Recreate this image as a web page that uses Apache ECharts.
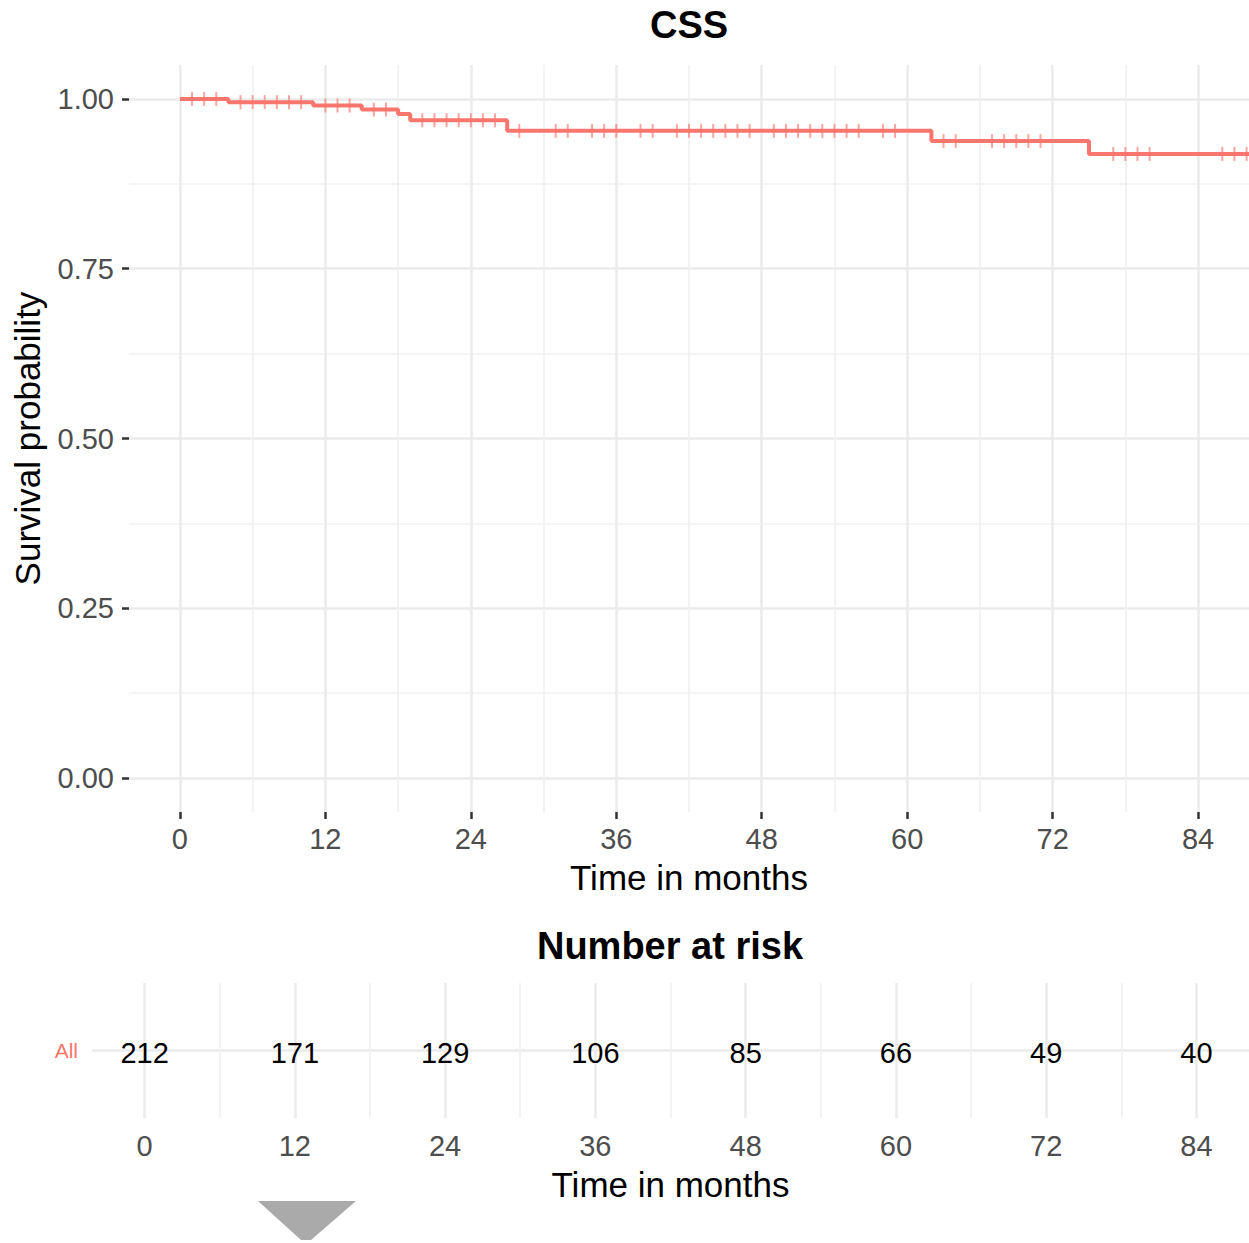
<!DOCTYPE html>
<html><head><meta charset="utf-8">
<script src="https://cdn.jsdelivr.net/npm/echarts@6/dist/echarts.min.js"></script>
<style>html,body{margin:0;padding:0;background:#fff}#c{width:1249px;height:1243px}</style>
</head><body><div id="c"></div>
<script>
// ---- data ----
const eventTimes = [0, 4, 11, 15, 18, 19, 27, 62, 75, 90];
const survival   = [1.0, 0.9953, 0.9904, 0.9844, 0.978, 0.9686, 0.953, 0.938, 0.919, 0.919];
const censorTimes = [1, 2, 3, 5, 6, 7, 8, 9, 10, 12, 13, 14, 16, 17,
  20, 21, 22, 23, 24, 25, 26, 28, 31, 32, 34, 35, 36, 38, 39, 41, 42, 43, 44, 45, 46, 47,
  49, 50, 51, 52, 53, 54, 55, 56, 58, 59, 63, 64, 67, 68, 69, 70, 71, 77, 78, 79, 80, 86, 87, 88];
const riskTimes  = [0, 12, 24, 36, 48, 60, 72, 84];
const riskCounts = [212, 171, 129, 106, 85, 66, 49, 40];
const strata = ['All'];
const xMajorTicks = [0, 12, 24, 36, 48, 60, 72, 84];
const xMinorTicks = [6, 18, 30, 42, 54, 66, 78];
const yMajorTicks = [0, 0.25, 0.5, 0.75, 1];
const yMinorTicks = [0.125, 0.375, 0.625, 0.875];
const titleText = 'CSS';
const riskTitle = 'Number at risk';
const xTitle = 'Time in months';
const yTitle = 'Survival probability';

// ---- build ----
function survAt(t) {
  let s = survival[0];
  for (let i = 0; i < eventTimes.length; i++) if (eventTimes[i] <= t) s = survival[i];
  return s;
}
const curveData = eventTimes.map((t, i) => [t, survival[i]]);
const censorData = censorTimes.map(t => [t, survAt(t)]);
const riskData = riskTimes.map((t, i) => [t, 1, riskCounts[i]]);

const FF = '"Liberation Sans", Arial, sans-serif';
const RED = '#F8766D';
const majorLine = { show: true, lineStyle: { color: '#ebebeb', width: 2.6 } };
const minorLine = { show: true, lineStyle: { color: '#f0f0f0', width: 1.6 } };
const noLine = { show: false, onZero: false };
const X0 = -4.2, X1 = 88.2;

const chart = echarts.init(document.getElementById('c'), null, { renderer: 'svg' });
chart.setOption({
  backgroundColor: '#ffffff',
  animation: false,
  grid: [
    { left: 129, top: 65, width: 1120, height: 747, containLabel: false },
    { left: 92, top: 983, width: 1157, height: 135, containLabel: false }
  ],
  xAxis: [
    { gridIndex: 0, type: 'value', min: X0, max: X1, position: 'bottom',
      axisLine: noLine,
      axisTick: { show: true, customValues: xMajorTicks, length: 7, lineStyle: { color: '#333', width: 2.5 } },
      axisLabel: { customValues: xMajorTicks, color: '#4d4d4d', fontSize: 29, fontFamily: FF, margin: 12 },
      splitLine: majorLine,
      name: xTitle, nameLocation: 'middle', nameGap: 48,
      nameTextStyle: { color: '#000', fontSize: 35, fontFamily: FF } },
    { gridIndex: 0, type: 'value', min: X0, max: X1, position: 'bottom',
      axisLine: noLine,
      axisTick: { show: false, customValues: xMinorTicks },
      axisLabel: { show: false, customValues: xMinorTicks },
      splitLine: minorLine },
    { gridIndex: 1, type: 'value', min: X0, max: X1, position: 'bottom',
      axisLine: noLine,
      axisTick: { show: false, customValues: xMajorTicks },
      axisLabel: { customValues: xMajorTicks, color: '#4d4d4d', fontSize: 29, fontFamily: FF, margin: 13 },
      splitLine: majorLine,
      name: xTitle, nameLocation: 'middle', nameGap: 49,
      nameTextStyle: { color: '#000', fontSize: 35, fontFamily: FF } },
    { gridIndex: 1, type: 'value', min: X0, max: X1, position: 'bottom',
      axisLine: noLine,
      axisTick: { show: false, customValues: xMinorTicks },
      axisLabel: { show: false, customValues: xMinorTicks },
      splitLine: minorLine }
  ],
  yAxis: [
    { gridIndex: 0, type: 'value', min: -0.05, max: 1.05, position: 'left',
      axisLine: noLine,
      axisTick: { show: true, customValues: yMajorTicks, length: 7, lineStyle: { color: '#333', width: 2.5 } },
      axisLabel: { customValues: yMajorTicks, color: '#4d4d4d', fontSize: 29, fontFamily: FF, margin: 15,
        formatter: v => Number(v).toFixed(2) },
      splitLine: majorLine,
      name: yTitle, nameLocation: 'middle', nameGap: 84, nameRotate: 90,
      nameTextStyle: { color: '#000', fontSize: 35, fontFamily: FF } },
    { gridIndex: 0, type: 'value', min: -0.05, max: 1.05, position: 'left',
      axisLine: noLine,
      axisTick: { show: false, customValues: yMinorTicks },
      axisLabel: { show: false, customValues: yMinorTicks },
      splitLine: minorLine },
    { gridIndex: 1, type: 'value', min: 0, max: 2, position: 'left',
      axisLine: noLine,
      axisTick: { show: false, customValues: [1] },
      axisLabel: { customValues: [1], color: RED, fontSize: 21, fontFamily: FF, margin: 14,
        formatter: () => strata[0] },
      splitLine: majorLine }
  ],
  series: [
    { type: 'line', xAxisIndex: 0, yAxisIndex: 0, data: curveData, step: 'end',
      showSymbol: false, symbol: 'none', clip: true,
      lineStyle: { color: RED, width: 4 }, z: 5 },
    { type: 'scatter', xAxisIndex: 0, yAxisIndex: 0, data: censorData,
      symbol: 'rect', symbolSize: [2, 14], clip: true,
      itemStyle: { color: RED, opacity: 0.65 }, z: 6 },
    { type: 'custom', xAxisIndex: 2, yAxisIndex: 2, data: riskData, z: 6,
      renderItem: (params, api) => {
        const p = api.coord([api.value(0), api.value(1)]);
        return { type: 'text', x: p[0], y: p[1] + 2,
          style: { text: String(api.value(2)), fill: '#000', align: 'center', verticalAlign: 'middle',
            font: '29px "Liberation Sans", Arial, sans-serif' } };
      } }
  ],
  graphic: [
    { type: 'text', x: 689, y: 25, z: 10,
      style: { text: titleText, textAlign: 'center', textVerticalAlign: 'middle',
        font: 'bold 38px "Liberation Sans", Arial, sans-serif', fill: '#000' } },
    { type: 'text', x: 670, y: 946, z: 10,
      style: { text: riskTitle, textAlign: 'center', textVerticalAlign: 'middle',
        font: 'bold 38px "Liberation Sans", Arial, sans-serif', fill: '#000' } },
    { type: 'polygon', z: 10,
      shape: { points: [[258, 1201], [356, 1201], [311, 1240], [301, 1240]] },
      style: { fill: '#aaaaaa' } }
  ]
});
</script></body></html>
